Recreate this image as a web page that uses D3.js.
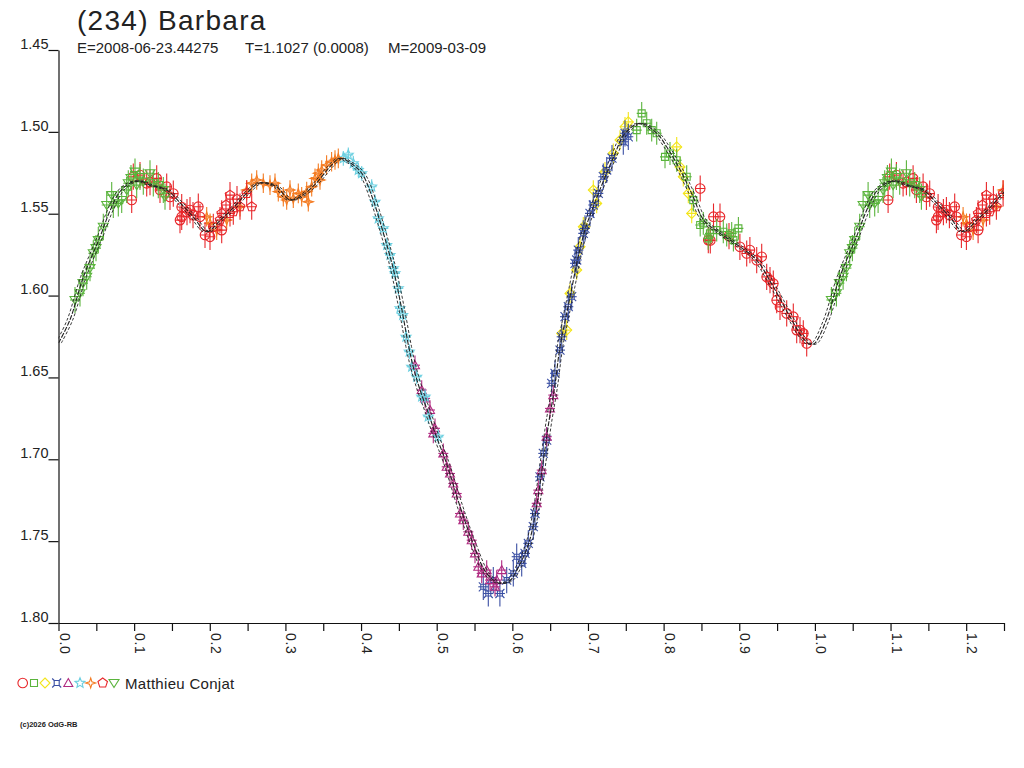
<!DOCTYPE html>
<html>
<head>
<meta charset="utf-8">
<script src="https://cdn.jsdelivr.net/npm/d3@7"></script>
<style>
  html, body { margin: 0; padding: 0; background: #fff; }
  svg { display: block; }
  text { font-family: "Liberation Sans", Arial, sans-serif; fill: #222; }
</style>
</head>
<body>
<svg id="chart" width="1024" height="768"></svg>
<script>
// ---------------- DATA ----------------
const titleText = "(234) Barbara";
const subtitleParts = ["E=2008-06-23.44275", "T=1.1027 (0.0008)", "M=2009-03-09"];
const observerName = "Matthieu Conjat";
const copyrightText = "(c)2026 OdG-RB";

const yTickValues = [1.45, 1.50, 1.55, 1.60, 1.65, 1.70, 1.75, 1.80];
const xTickValues = [0, 0.05, 0.1, 0.15, 0.2, 0.25, 0.3, 0.35, 0.4, 0.45, 0.5, 0.55, 0.6, 0.65,
                     0.7, 0.75, 0.8, 0.85, 0.9, 0.95, 1.0, 1.05, 1.1, 1.15, 1.2, 1.25];

// fitted curve (phase, reduced magnitude), one rotation
const curvePhase = [0.000, 0.015, 0.033, 0.055, 0.068, 0.081, 0.095, 0.108, 0.121, 0.143, 0.161, 0.178,
  0.196, 0.214, 0.231, 0.249, 0.266, 0.288, 0.306, 0.323, 0.341, 0.359, 0.372, 0.386, 0.401, 0.416,
  0.427, 0.436, 0.443, 0.454, 0.463, 0.469, 0.478, 0.489, 0.498, 0.513, 0.531, 0.548, 0.566, 0.584,
  0.597, 0.606, 0.623, 0.643, 0.648, 0.656, 0.663, 0.670, 0.679, 0.687, 0.696, 0.707, 0.734, 0.749,
  0.769, 0.791, 0.804, 0.822, 0.839, 0.853, 0.875, 0.901, 0.923, 0.945, 0.967, 0.985, 0.994];
const curveMag = [1.6290, 1.6150, 1.5885, 1.5640, 1.5483, 1.5366, 1.5312, 1.5300, 1.5325, 1.5355, 1.5435, 1.5518,
  1.5610, 1.5539, 1.5465, 1.5374, 1.5312, 1.5335, 1.5416, 1.5386, 1.5312, 1.5213, 1.5162, 1.5190, 1.5253, 1.5416,
  1.5579, 1.5722, 1.5844, 1.6088, 1.6312, 1.6435, 1.6577, 1.6719, 1.6842, 1.7025, 1.7290, 1.7513, 1.7697, 1.7758,
  1.7740, 1.7677, 1.7493, 1.6943, 1.6780, 1.6557, 1.6312, 1.6150, 1.5946, 1.5763, 1.5600, 1.5457, 1.5152, 1.5009,
  1.4948, 1.5009, 1.5091, 1.5233, 1.5396, 1.5539, 1.5620, 1.5702, 1.5783, 1.5946, 1.6129, 1.6265, 1.6298];

// observations: [phase, magnitude]
const redCircles = [[0.0968,1.5416],[0.0989,1.5274],[0.1078,1.5264],[0.1166,1.5314],[0.1210,1.5307],
  [0.1298,1.5284],[0.1342,1.5355],[0.1430,1.5335],[0.1474,1.5398],[0.1518,1.5377],[0.1606,1.5539],
  [0.1629,1.5459],[0.1629,1.5519],[0.1699,1.5490],[0.1738,1.5478],[0.1778,1.5509],[0.1848,1.5457],
  [0.1871,1.5519],[0.1937,1.5630],[0.2003,1.5641],[0.2046,1.5580],[0.2157,1.5600],
  [0.8484,1.5346],[0.8591,1.5661],[0.8617,1.5663],[0.8660,1.5518],[0.8745,1.5518],[0.8864,1.5637],
  [0.9009,1.5702],[0.9098,1.5743],[0.9141,1.5722],[0.9230,1.5784],[0.9297,1.5763],[0.9363,1.5886],
  [0.9406,1.5906],[0.9450,1.5926],[0.9495,1.6028],[0.9538,1.6069],[0.9627,1.6109],[0.9714,1.6129],
  [0.9759,1.6211],[0.9803,1.6211],[0.9847,1.6231],[0.9891,1.6292]];
const greenSquares = [[0.7644,1.4989],[0.7710,1.4887],[0.7776,1.4948],[0.7842,1.4989],[0.7909,1.5009],
  [0.8018,1.5153],[0.8084,1.5132],[0.8173,1.5173],[0.8305,1.5274],[0.8393,1.5417],[0.8484,1.5569],
  [0.8525,1.5559],[0.8590,1.5651],[0.8613,1.5620],[0.8702,1.5600],[0.8789,1.5610],[0.8834,1.5630],
  [0.8900,1.5620],[0.8922,1.5661],[0.8988,1.5590]];
const yellowDiamonds = [[0.6652,1.6231],[0.6719,1.6211],[0.6762,1.5987],[0.6851,1.5844],[0.6894,1.5702],
  [0.6938,1.5580],[0.6960,1.5580],[0.7070,1.5355],[0.7115,1.5437],[0.7225,1.5244],[0.7335,1.5131],
  [0.7423,1.5050],[0.7489,1.4969],[0.7533,1.4939],[0.8173,1.5092],[0.8217,1.5214],[0.8260,1.5274],
  [0.8326,1.5376],[0.8371,1.5498]];
const blueCrossSquares = [[0.5616,1.7779],[0.5682,1.7820],[0.5748,1.7738],[0.5836,1.7820],[0.5925,1.7738],
  [0.6013,1.7697],[0.6057,1.7595],[0.6124,1.7636],[0.6167,1.7575],[0.6211,1.7514],[0.6277,1.7412],
  [0.6300,1.7331],[0.6366,1.7107],[0.6409,1.6964],[0.6454,1.6883],[0.6520,1.6536],[0.6564,1.6475],
  [0.6630,1.6333],[0.6652,1.6252],[0.6696,1.6129],[0.6740,1.6068],[0.6785,1.6007],[0.6828,1.5803],
  [0.6851,1.5783],[0.6872,1.5722],[0.6938,1.5620],[0.6960,1.5590],[0.7027,1.5498],[0.7070,1.5447],
  [0.7136,1.5376],[0.7202,1.5274],[0.7247,1.5233],[0.7318,1.5160],[0.7467,1.5060],[0.7489,1.5009],
  [0.7533,1.5030]];
const magentaTriangles = [[0.4713,1.6425],[0.4802,1.6577],[0.4846,1.6628],[0.4911,1.6699],[0.4955,1.6842],
  [0.4977,1.6811],[0.5087,1.6964],[0.5132,1.7046],[0.5176,1.7087],[0.5219,1.7148],[0.5264,1.7209],
  [0.5308,1.7331],[0.5352,1.7372],[0.5418,1.7443],[0.5463,1.7494],[0.5506,1.7575],[0.5550,1.7657],
  [0.5595,1.7697],[0.5661,1.7677],[0.5705,1.7738],[0.5771,1.7779],[0.5793,1.7738],[0.5859,1.7677],
  [0.6322,1.7269],[0.6343,1.7188],[0.6388,1.7066],[0.6454,1.6862],[0.6498,1.6689],[0.6542,1.6608]];
const cyanStars = [[0.3765,1.5162],[0.3831,1.5141],[0.3897,1.5192],[0.3963,1.5233],[0.4008,1.5253],
  [0.4141,1.5335],[0.4184,1.5427],[0.4228,1.5529],[0.4294,1.5590],[0.4339,1.5692],[0.4383,1.5753],
  [0.4427,1.5834],[0.4449,1.5864],[0.4492,1.5956],[0.4515,1.6078],[0.4550,1.6119],[0.4594,1.6252],
  [0.4638,1.6343],[0.4670,1.6435],[0.4736,1.6496],[0.4802,1.6618],[0.4846,1.6618],[0.4889,1.6740],
  [0.5021,1.6863]];
const orangeStars = [[0.1959,1.5519],[0.2004,1.5559],[0.2091,1.5600],[0.2224,1.5539],[0.2399,1.5457],
  [0.2488,1.5355],[0.2554,1.5314],[0.2620,1.5294],[0.2708,1.5314],[0.2796,1.5325],[0.2862,1.5314],
  [0.2906,1.5365],[0.2972,1.5396],[0.3017,1.5416],[0.3061,1.5355],[0.3104,1.5406],[0.3170,1.5376],
  [0.3215,1.5396],[0.3281,1.5365],[0.3302,1.5427],[0.3347,1.5335],[0.3391,1.5284],[0.3435,1.5253],
  [0.3457,1.5294],[0.3479,1.5233],[0.3545,1.5203],[0.3611,1.5182],[0.3655,1.5172],[0.3699,1.5162]];
const redPentagons = [[0.2135,1.5539],[0.2158,1.5498],[0.2215,1.5447],[0.2267,1.5386],[0.2267,1.5498],
  [0.2311,1.5488],[0.2360,1.5411],[0.2399,1.5457],[0.2488,1.5376],[0.2554,1.5457]];
const greenDownTriangles = [[0.0218,1.6027],[0.0284,1.5986],[0.0324,1.5924],[0.0373,1.5885],[0.0416,1.5832],
  [0.0460,1.5742],[0.0496,1.5710],[0.0526,1.5661],[0.0592,1.5580],[0.0637,1.5447],[0.0703,1.5386],
  [0.0724,1.5447],[0.0791,1.5437],[0.0835,1.5416],[0.0901,1.5355],[0.0923,1.5314],[0.0958,1.5282],
  [0.1011,1.5243],[0.1034,1.5325],[0.1077,1.5276],[0.1121,1.5304],[0.1210,1.5253],[0.1253,1.5314],
  [0.1319,1.5325],[0.1386,1.5355],[0.1408,1.5396]];

// typical 1-sigma error of each data set (mag)
const errRedCircles = 0.008, errGreenSquares = 0.007, errYellow = 0.006, errBlue = 0.008,
      errMagenta = 0.006, errCyan = 0.0045, errOrange = 0.006, errPentagons = 0.008, errDownTri = 0.008;

// ---------------- STYLES / SHAPES ----------------
const RED = "#e8262a", GREEN = "#5ab43c", YELLOW = "#f3e51b", BLUE = "#3a4fa3",
      MAGENTA = "#b02a80", CYAN = "#6bcfe0", ORANGE = "#f47b22";

function polyPath(n, rOut, rIn, rot) {
  const pts = [];
  const steps = rIn ? n * 2 : n;
  for (let i = 0; i < steps; i++) {
    const r = rIn ? (i % 2 === 0 ? rOut : rIn) : rOut;
    const a = rot + i * 2 * Math.PI / steps;
    pts.push([r * Math.sin(a), -r * Math.cos(a)]);
  }
  return "M" + pts.map(p => p[0].toFixed(2) + "," + p[1].toFixed(2)).join("L") + "Z";
}
const shapes = {
  circle: "M4.8,0A4.8,4.8 0 1,1 -4.8,0A4.8,4.8 0 1,1 4.8,0Z",
  square: "M-3.5,-3.5h7v7h-7Z",
  diamond: "M0,-5L5,0L0,5L-5,0Z",
  xsquare: "M-2.5,-2.5h5v5h-5Z M-2.5,-2.5L-4.5,-4.5 M2.5,-2.5L4.5,-4.5 M2.5,2.5L4.5,4.5 M-2.5,2.5L-4.5,4.5",
  triangle: "M0,-4.5L4.5,3.5L-4.5,3.5Z",
  star5: polyPath(5, 5.2, 2.3, 0),
  star4: polyPath(4, 5, 1.7, 0),
  pentagon: polyPath(5, 5, 0, 0),
  triangleDown: "M-5,-3.5L5,-3.5L0,4.5Z"
};

const seriesList = [
  { data: redCircles, color: RED, shape: "circle", err: errRedCircles, order: 6 },
  { data: greenSquares, color: GREEN, shape: "square", err: errGreenSquares, order: 7 },
  { data: yellowDiamonds, color: YELLOW, shape: "diamond", err: errYellow, order: 0 },
  { data: blueCrossSquares, color: BLUE, shape: "xsquare", err: errBlue, order: 1 },
  { data: magentaTriangles, color: MAGENTA, shape: "triangle", err: errMagenta, order: 2 },
  { data: cyanStars, color: CYAN, shape: "star5", err: errCyan, order: 3 },
  { data: orangeStars, color: ORANGE, shape: "star4", err: errOrange, order: 4 },
  { data: redPentagons, color: RED, shape: "pentagon", err: errPentagons, order: 5 },
  { data: greenDownTriangles, color: GREEN, shape: "triangleDown", err: errDownTri, order: 8 }
];

// ---------------- DRAW ----------------
const svg = d3.select("#chart");
svg.append("rect").attr("width", 1024).attr("height", 768).attr("fill", "#fff");

const x = d3.scaleLinear().domain([0, 1.25]).range([58.5, 1004]);
const y = d3.scaleLinear().domain([1.45, 1.80]).range([50, 623]);
const X_MAX = 1.25;

svg.append("clipPath").attr("id", "plotclip")
  .append("rect").attr("x", 58.5).attr("y", 40).attr("width", 1004 - 58.5).attr("height", 600);

// Title
svg.append("text").attr("x", 77).attr("y", 30)
  .style("font-size", "28px").style("letter-spacing", "1.3px").attr("fill", "#222")
  .text(titleText);
const subX = [77, 245, 388];
subtitleParts.forEach((t, i) => {
  svg.append("text").attr("x", subX[i]).attr("y", 53)
    .style("font-size", "15px").attr("fill", "#222").text(t);
});

// Axes
const yAxis = d3.axisLeft(y).tickValues(yTickValues).tickFormat(d3.format(".2f"))
  .tickSize(10).tickSizeOuter(0).tickPadding(0);
const gy = svg.append("g").attr("transform", "translate(58.5,0)").call(yAxis);
gy.selectAll("text").attr("dy", "-0.12em").attr("x", -10)
  .style("font-size", "14.5px").style("font-family", "'Liberation Sans', Arial, sans-serif").attr("fill", "#222");

const xAxis = d3.axisBottom(x).tickValues(xTickValues)
  .tickFormat(d => (Math.round(d * 100) % 10 === 0 && d < 1.24) ? d.toFixed(1) : "")
  .tickSize(8).tickSizeOuter(0);
const gx = svg.append("g").attr("transform", "translate(0,623)").call(xAxis);
gx.selectAll("text").attr("x", 0).attr("y", 0).attr("dy", 0)
  .attr("transform", "translate(0.5,10) rotate(90)").style("text-anchor", "start")
  .style("font-size", "14px").style("letter-spacing", "0.6px")
  .style("font-family", "'Liberation Sans', Arial, sans-serif").attr("fill", "#222");
[gx, gy].forEach(g => {
  g.selectAll("path.domain").attr("stroke", "#111").attr("stroke-width", 1.2);
  g.selectAll(".tick line").attr("stroke", "#111").attr("stroke-width", 1.2);
});

// Observations (with wrap beyond phase 1)
const plot = svg.append("g").attr("clip-path", "url(#plotclip)");
function expand(data) {
  const out = [];
  data.forEach(d => {
    out.push(d);
    if (d[0] + 1 <= X_MAX) out.push([d[0] + 1, d[1]]);
  });
  return out;
}
seriesList.slice().sort((a, b) => a.order - b.order).forEach(s => {
  const pts = expand(s.data);
  const g = plot.append("g").attr("stroke", s.color).attr("fill", "none").attr("stroke-width", 1.1);
  const p = g.selectAll("g.pt").data(pts).join("g").attr("class", "pt")
    .attr("transform", d => `translate(${x(d[0]).toFixed(1)},${y(d[1]).toFixed(1)})`);
  p.append("line").attr("x1", 0).attr("x2", 0)
    .attr("y1", d => y(d[1] - s.err) - y(d[1])).attr("y2", d => y(d[1] + s.err) - y(d[1]));
  p.append("line").attr("x1", -5).attr("x2", 5).attr("y1", 0).attr("y2", 0);
  p.append("path").attr("d", shapes[s.shape]);
});

// Fitted curve drawn three times (period uncertainty)
const curvePts = curvePhase.map((p, i) => [p, curveMag[i]]);
const curveAll = curvePts.concat(curvePts.filter(d => d[0] + 1 <= X_MAX + 0.05).map(d => [d[0] + 1, d[1]]));
const line = d3.line().x(d => x(d[0])).y(d => y(d[1])).curve(d3.curveCatmullRom.alpha(0.5));
[-2.8, 0, 2.8].forEach(off => {
  plot.append("path").datum(curveAll).attr("d", line)
    .attr("transform", `translate(${off},0)`)
    .attr("fill", "none").attr("stroke", "#222").attr("stroke-width", off === 0 ? 1.1 : 0.9)
    .attr("stroke-dasharray", off === 0 ? "5,1.5" : "3,2");
});

// Legend
const legendX = [22.7, 34, 45, 56.7, 68.3, 80, 90.7, 102.7, 114];
seriesList.forEach((s, i) => {
  svg.append("path").attr("d", shapes[s.shape])
    .attr("transform", `translate(${legendX[i]},683)`)
    .attr("fill", "none").attr("stroke", s.color).attr("stroke-width", 1.1);
});
svg.append("text").attr("x", 125).attr("y", 688.5)
  .style("font-size", "15px").style("letter-spacing", "0.3px").attr("fill", "#222").text(observerName);

svg.append("text").attr("x", 20).attr("y", 727)
  .style("font-size", "7.5px").style("font-weight", "bold").attr("fill", "#222").text(copyrightText);
</script>
</body>
</html>
